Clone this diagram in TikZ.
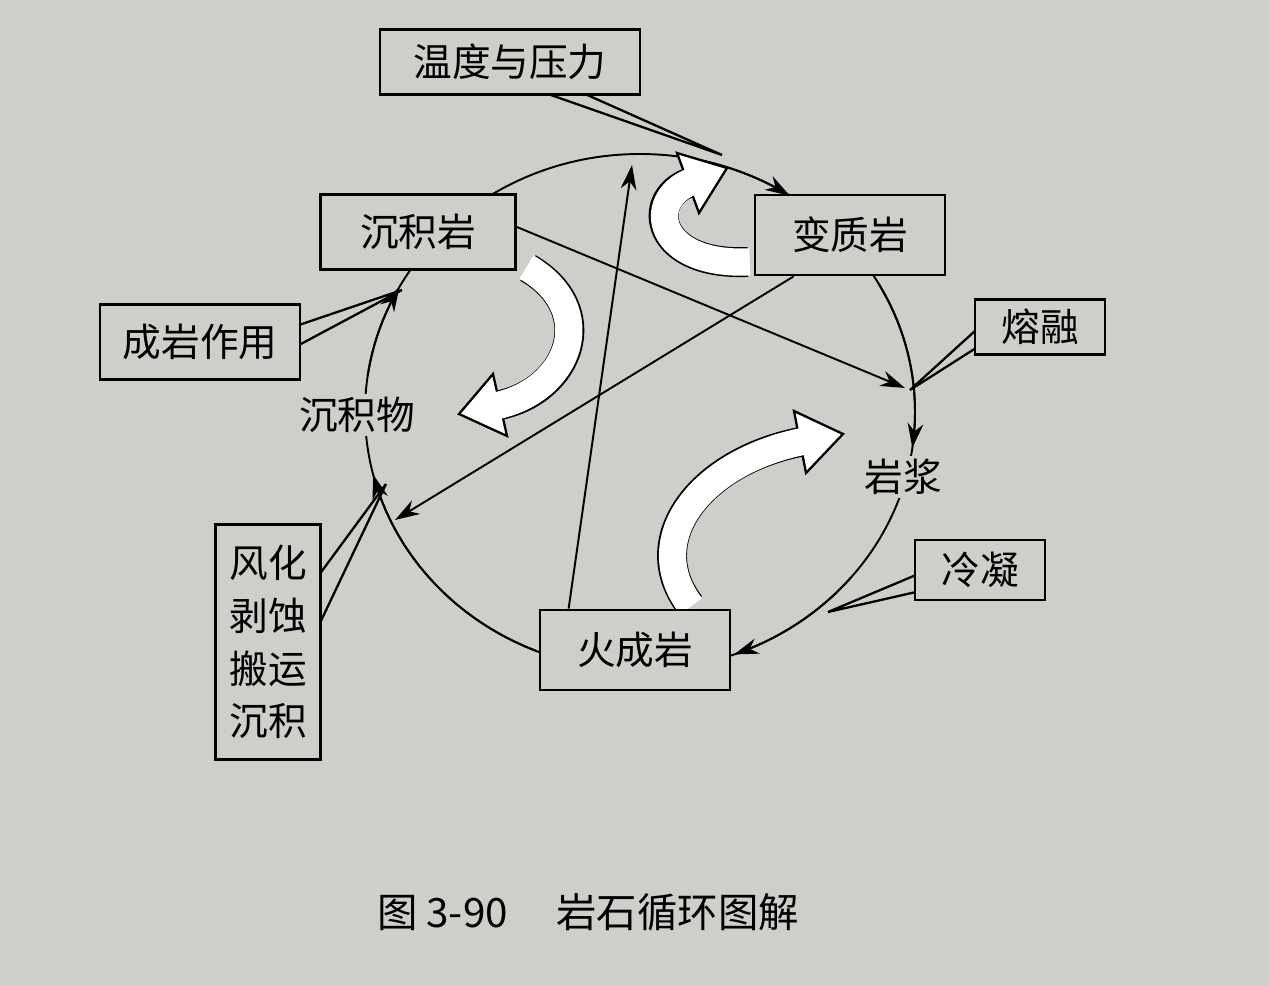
\documentclass[tikz,border=0pt]{standalone}
\usepackage{fontspec}
\newfontfamily\cjk{Noto Sans CJK SC}
\usetikzlibrary{arrows.meta}
\definecolor{bg}{RGB}{206,207,202}
\begin{document}
\begin{tikzpicture}[x=0.02cm,y=-0.02cm,
  box/.style={draw,line width=1.6pt,fill=bg,font=\cjk\fontsize{22}{30}\selectfont,inner sep=0pt},
  lbl/.style={fill=bg,font=\cjk\fontsize{22}{30}\selectfont,inner sep=2pt},
  tail/.style={draw,line width=1.3pt,fill=bg,line join=miter},
  con/.style={line width=1.1pt,-{Stealth[length=14pt,width=9pt]}},
  circ/.style={line width=1.1pt}]
\fill[bg] (0,0) rectangle (1269,986);
\useasboundingbox (0,0) rectangle (1269,986);
% circle
\draw[circ] (640,412) ellipse [x radius=275, y radius=258];
\draw[con] plot[domain=80:57,samples=20] ({640+275*cos(\x)},{412-258*sin(\x)});
\draw[con] plot[domain=30:-8,samples=20] ({640+275*cos(\x)},{412-258*sin(\x)});
\draw[con] plot[domain=-40:-70,samples=20] ({640+275*cos(\x)},{412-258*sin(\x)});
\draw[con] plot[domain=-112:-166,samples=20] ({640+275*cos(\x)},{412-258*sin(\x)});
\draw[con] plot[domain=172:151,samples=20] ({640+275*cos(\x)},{412-258*sin(\x)});
% block arrows
\foreach \a/\b/\c/\d/\p/\q/\t in {
  {(748,262)}/{(655,266)}/{(645,200)}/{(688,183)}/{(699,213)}/{(677,153)}/{(727,168)},
  {(528,268)}/{(600,310)}/{(570,390)}/{(500,405)}/{(507,436)}/{(493,374)}/{(459,414)},
  {(690,605)}/{(640,540)}/{(700,462)}/{(800,442)}/{(806,473)}/{(794,411)}/{(843,434)}}{
  \draw[line width=17pt,black] \a .. controls \b and \c .. \d;
  \draw[line width=1.3pt,fill=white,line join=miter] \p -- \t -- \q -- cycle;
  \draw[line width=15.5pt,white,shorten >=-2pt,shorten <=-1pt] \a .. controls \b and \c .. \d;
}
% labels on circle
\node[lbl] (cjw) at (357,415) {沉积物};
\node[lbl] (yj) at (903,477) {岩浆};
% callout tails
\coordinate (t1) at (722,155);
\coordinate (t2) at (910,390);
\coordinate (t3) at (402,290);
\coordinate (t4) at (828,612);
\coordinate (t5) at (386,484);
\draw[tail] (548,94) -- (t1) -- (585,94);
\draw[tail] (976,330) -- (t2) -- (976,348);
\draw[tail] (299,325) -- (t3) -- (299,345);
\draw[tail] (916,575) -- (t4) -- (916,592);
\draw[tail] (319,575) -- (t5) -- (319,625);
% boxes
\node[box,minimum width=5.2cm,minimum height=1.3cm] (wd) at (510,62) {温度与压力};
\node[box,minimum width=3.9cm,minimum height=1.5cm] (cjy) at (418,232) {沉积岩};
\node[box,minimum width=3.8cm,minimum height=1.6cm] (bzy) at (850,235) {变质岩};
\node[box,minimum width=2.6cm,minimum height=1.1cm] (rr) at (1040,327) {熔融};
\node[box,minimum width=4cm,minimum height=1.5cm] (cy) at (200,342) {成岩作用};
\node[box,minimum width=2.6cm,minimum height=1.2cm] (ln) at (980,570) {冷凝};
\node[box,minimum width=3.8cm,minimum height=1.6cm] (hcy) at (635,650) {火成岩};
\node[box,minimum width=2.1cm,minimum height=4.7cm,align=center] (fh) at (268,642) {风化\\剥蚀\\搬运\\沉积};
% straight connectors
\draw[con] (cjy.east) ++(0,-5) coordinate (s1) (s1) -- (905,388) coordinate (e1);
\draw[con] (bzy.south west) ++(40,0) coordinate (s2) (s2) -- (395,520) coordinate (e2);
\draw[con] (hcy.north west) ++(30,0) coordinate (s3) (s3) -- (632,165) coordinate (e3);
% caption
\node[font=\cjk\fontsize{23}{28}\selectfont] (cap) at (588,912) {图 3-90\hspace{1.2em}岩石循环图解};
\end{tikzpicture}
\end{document}
